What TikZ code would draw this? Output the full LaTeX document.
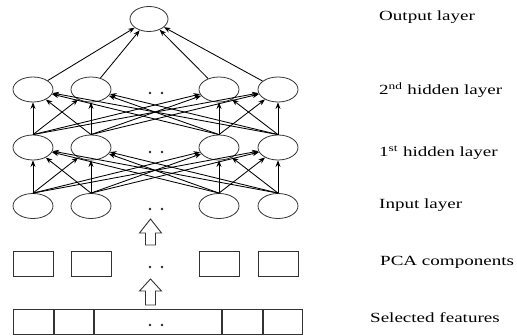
\documentclass[tikz,border=0pt]{standalone}
\usepackage{fontspec}
\usepackage{graphicx}
\setmainfont{Liberation Serif}
\usetikzlibrary{arrows.meta,shapes.geometric}
\newcommand\widetext[1]{\scalebox{1.36}[1]{#1}}
\begin{document}
\begin{tikzpicture}[x=1pt,y=-1pt,
  neuron/.style={draw=black!80, line width=0.8pt, ellipse, minimum width=40pt, minimum height=25pt, inner sep=0pt},
  conn/.style={draw=black, line width=0.85pt, -{Stealth[length=6.5pt,width=5pt]}},
  box/.style={draw=black!80, line width=0.9pt, rectangle, minimum height=25pt, inner sep=0pt},
  lab/.style={anchor=west, inner sep=0pt, font=\fontsize{14}{16}\selectfont},
  hollow/.style={draw=black!80, line width=0.9pt, fill=white},
  dot/.style={fill=black!85, circle, inner sep=0pt, minimum size=2.8pt}
]
\useasboundingbox (0,0) rectangle (517,336);

% neurons
\node[neuron, minimum width=38pt] (out) at (149,19) {};
\foreach \i/\x in {1/33,2/91,3/219,4/278}{
  \node[neuron] (hb\i) at (\x,89.5) {};
  \node[neuron] (ha\i) at (\x,147.5) {};
  \node[neuron] (in\i) at (\x,206) {};
  \node[box, minimum width=40pt] (pca\i) at (\x,263.5) {};
}

% connections
\foreach \i in {1,...,4}{
  \foreach \j in {1,...,4}{
    \draw[conn] (in\i.north) -- (ha\j);
    \draw[conn] (ha\i.north) -- (hb\j);
  }
  \draw[conn] (hb\i) -- (out);
}

% dots
\foreach \y/\n in {93/d1,152/d2,209/d3,267/d4,325/d5}{
  \node[dot] (\n a) at (150,\y) {};
  \node[dot] (\n b) at (162,\y) {};
}

% selected features bar
\node[box, minimum width=40pt, anchor=west] (sf1) at (13,321.5) {};
\node[box, minimum width=39pt, anchor=west] (sf2) at (sf1.east) {};
\node[box, minimum width=127pt, anchor=west] (sf3) at (sf2.east) {};
\node[box, minimum width=40pt, anchor=west] (sf4) at (sf3.east) {};
\node[box, minimum width=39pt, anchor=west] (sf5) at (sf4.east) {};

% hollow arrows
\draw[hollow] (145.5,245) -- (145.5,233) -- (139.5,233) -- (150.5,219) -- (161.5,233) -- (155.5,233) -- (155.5,245) -- cycle;
\draw[hollow] (145.5,305) -- (145.5,291) -- (139.5,291) -- (150.5,279) -- (161.5,291) -- (155.5,291) -- (155.5,305) -- cycle;

% labels
\node[lab] (lout) at (379,17) {\widetext{Output layer}};
\node[lab] (lhb) at (379,90) {\widetext{2\textsuperscript{nd} hidden layer}};
\node[lab] (lha) at (379,153) {\widetext{1\textsuperscript{st} hidden layer}};
\node[lab] (lin) at (379,205) {\widetext{Input layer}};
\node[lab] (lpca) at (380,262) {\widetext{PCA components}};
\node[lab] (lsf) at (370,318) {\widetext{Selected features}};
\end{tikzpicture}
\end{document}
